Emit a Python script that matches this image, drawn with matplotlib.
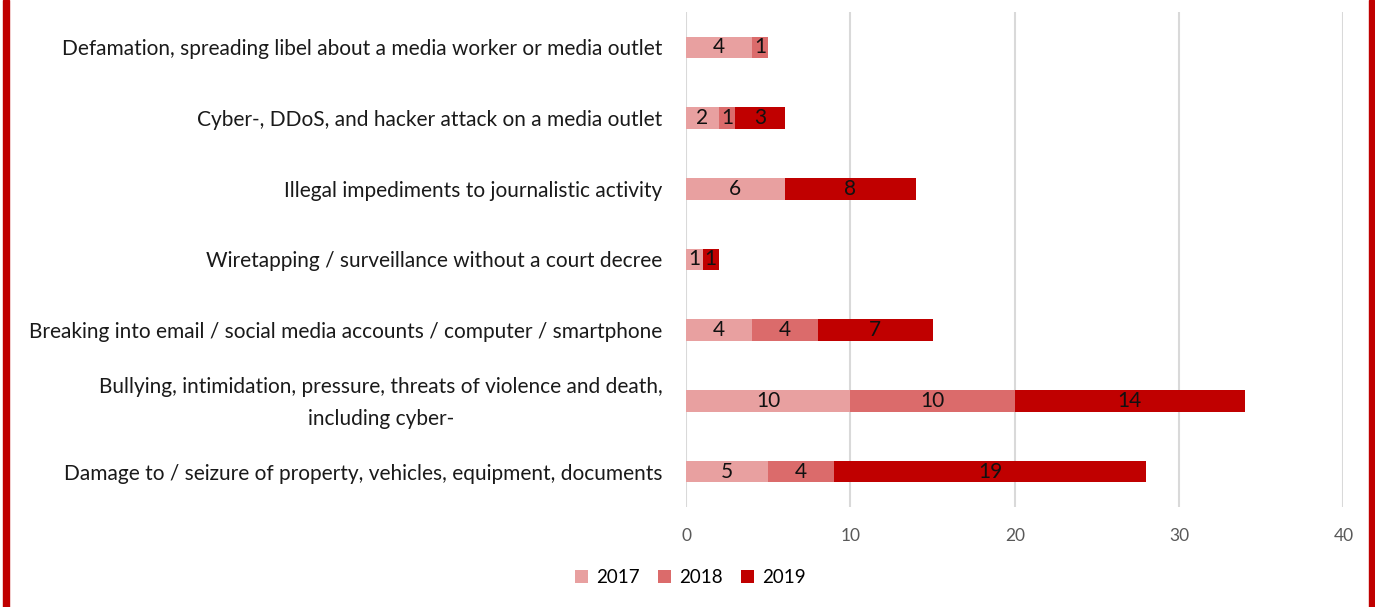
import numpy as np
import matplotlib.pyplot as plt
from matplotlib.patches import Rectangle

plt.rcParams['font.family'] = ['Lato', 'DejaVu Sans']

categories = [
    'Defamation, spreading libel about a media worker or media outlet',
    'Cyber-, DDoS, and hacker attack on a media outlet',
    'Illegal impediments to journalistic activity',
    'Wiretapping / surveillance without a court decree',
    'Breaking into email / social media accounts / computer / smartphone',
    'Bullying, intimidation, pressure, threats of violence and death,\nincluding cyber-',
    'Damage to / seizure of property, vehicles, equipment, documents',
]
years = ['2017', '2018', '2019']
v2017 = [4, 2, 6, 1, 4, 10, 5]
v2018 = [1, 1, 0, 0, 4, 10, 4]
v2019 = [0, 3, 8, 1, 7, 14, 19]
colors = ['#E8A0A0', '#DB6B6B', '#C00000']

fig = plt.figure(figsize=(13.75, 6.07), dpi=100)
ax = fig.add_axes([0.499, 0.165, 0.478, 0.815])

y = np.arange(len(categories))
left = np.zeros(len(categories))
for year, vals, c in zip(years, [v2017, v2018, v2019], colors):
    vals = np.array(vals)
    ax.barh(y, vals, left=left, height=0.31, color=c, label=year, zorder=3)
    for yi, l, v in zip(y, left, vals):
        if v > 0:
            ax.text(l + v / 2, yi, str(v), ha='center', va='center',
                    fontsize=15, color='#111111', zorder=4)
    left += vals

ax.set_xlim(0, 40)
ax.set_ylim(6.5, -0.5)
ax.set_xticks([0, 10, 20, 30, 40])
ax.set_yticks(y)
# two-line labels are drawn separately so they can be centred on the bar
ax.set_yticklabels(['' if '\n' in c else c for c in categories],
                   fontsize=15, color='#1a1a1a')
for yi, c in zip(y, categories):
    if '\n' in c:
        ax.annotate(c, xy=(0, yi), xycoords=('axes fraction', 'data'),
                    xytext=(-17, -1.5), textcoords='offset points',
                    ha='right', va='center', multialignment='center',
                    linespacing=1.7, fontsize=15, color='#1a1a1a')
ax.tick_params(axis='y', length=0, pad=17)
ax.tick_params(axis='x', length=0, pad=15, labelsize=12.5, labelcolor='#595959')
ax.grid(axis='x', color='#d9d9d9', linewidth=1.5, zorder=0)
for s in ax.spines.values():
    s.set_visible(False)

fig.legend(loc='center', bbox_to_anchor=(0.502, 0.048), ncol=3, frameon=False,
           fontsize=13.5, handlelength=0.7, handleheight=0.7, handletextpad=0.4,
           columnspacing=1.0)

# red frame edges on both sides
fig.add_artist(Rectangle((0.0025, 0), 0.004, 1, transform=fig.transFigure,
                         color='#C00000', zorder=10))
fig.add_artist(Rectangle((0.9955, 0), 0.004, 1, transform=fig.transFigure,
                         color='#C00000', zorder=10))

fig.savefig('out.png', dpi=100)
